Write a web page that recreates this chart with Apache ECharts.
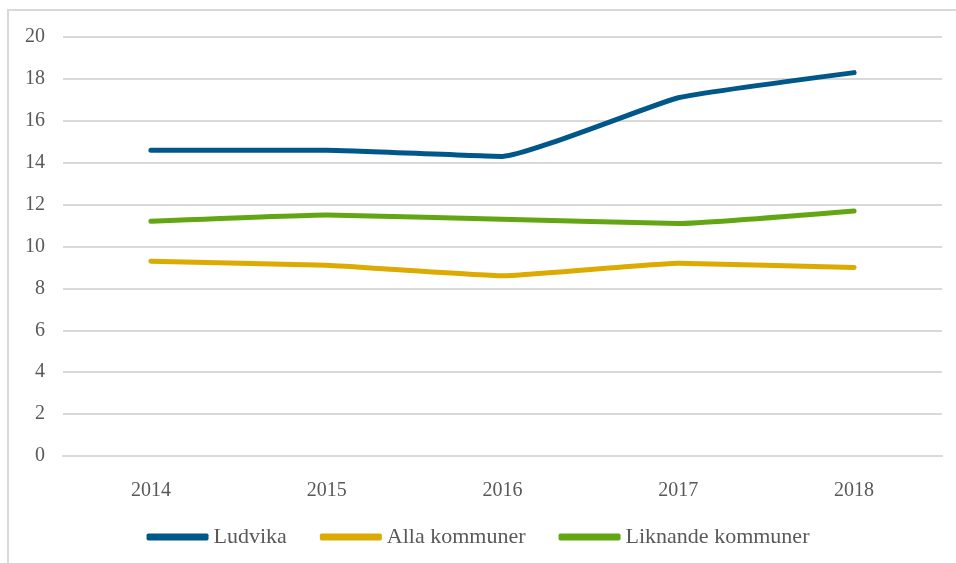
<!DOCTYPE html>
<html>
<head>
<meta charset="utf-8">
<script src="https://cdn.jsdelivr.net/npm/echarts@6/dist/echarts.min.js"></script>
<style>
  html, body { margin: 0; padding: 0; background: #fff; }
  #chart { width: 956px; height: 563px; }
</style>
</head>
<body>
<div id="chart"></div>
<script>
const years = ['2014', '2015', '2016', '2017', '2018'];
const ludvika = [14.6, 14.6, 14.3, 17.1, 18.3];
const allaKommuner = [9.3, 9.1, 8.6, 9.2, 9.0];
const liknandeKommuner = [11.2, 11.5, 11.3, 11.1, 11.7];
const yTicks = { min: 0, max: 20, interval: 2 };

const font = '"Liberation Serif", "DejaVu Serif", serif';
const textColor = '#595959';
const gridColor = '#d9d9d9';

const chart = echarts.init(document.getElementById('chart'));

function lineSeries(name, data, color) {
  return {
    name: name,
    type: 'line',
    data: data,
    smooth: 0.12,
    symbol: 'none',
    lineStyle: { width: 5, color: color, cap: 'round', join: 'round' },
    itemStyle: { color: color }
  };
}

chart.setOption({
  animation: false,
  backgroundColor: '#fff',
  graphic: [{
    type: 'polyline',
    shape: { points: [[8, 563], [8, 10], [956, 10]] },
    style: { stroke: gridColor, lineWidth: 2, fill: null },
    silent: true
  }],
  grid: { left: 63, right: 14, top: 37, bottom: 107, containLabel: false },
  xAxis: {
    type: 'category',
    data: years,
    boundaryGap: true,
    axisLine: { show: true, lineStyle: { color: gridColor, width: 2 } },
    axisTick: { show: false },
    axisLabel: { color: textColor, fontFamily: font, fontSize: 20, margin: 25 }
  },
  yAxis: {
    type: 'value',
    min: yTicks.min,
    max: yTicks.max,
    interval: yTicks.interval,
    axisLine: { show: false },
    axisTick: { show: false },
    splitLine: { lineStyle: { color: gridColor, width: 2 } },
    axisLabel: { color: textColor, fontFamily: font, fontSize: 20, margin: 18 }
  },
  legend: {
    bottom: 10,
    left: 'center',
    itemWidth: 62,
    itemHeight: 7,
    itemGap: 33,
    icon: 'roundRect',
    textStyle: { color: textColor, fontFamily: font, fontSize: 22 },
    data: ['Ludvika', 'Alla kommuner', 'Liknande kommuner']
  },
  series: [
    lineSeries('Ludvika', ludvika, '#00578a'),
    lineSeries('Alla kommuner', allaKommuner, '#dcaa00'),
    lineSeries('Liknande kommuner', liknandeKommuner, '#62a713')
  ]
});
</script>
</body>
</html>
